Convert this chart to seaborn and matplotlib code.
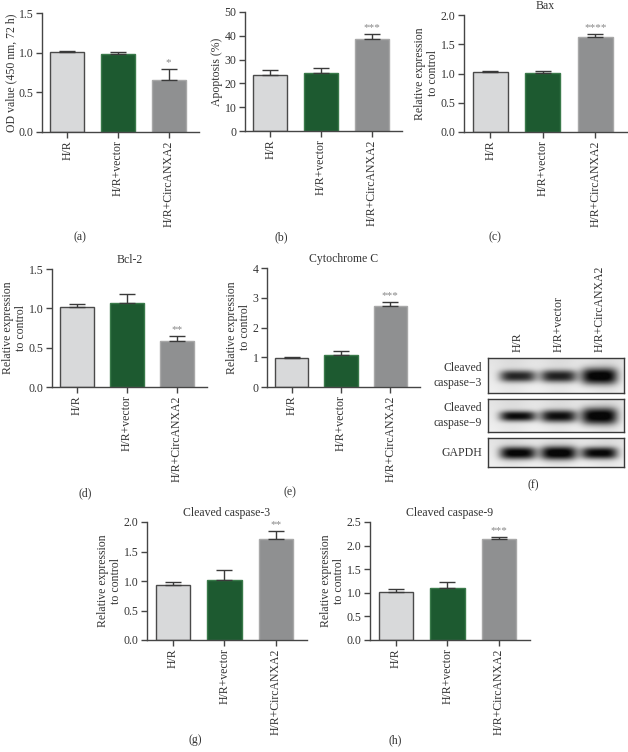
import numpy as np
import pandas as pd
import matplotlib
matplotlib.use("Agg")
import matplotlib.pyplot as plt
import seaborn as sns

sns.set_style("white")
plt.rcParams['font.family'] = ['Liberation Serif', 'DejaVu Serif']

# ---------------- data ----------------
groups = ["H/R", "H/R+vector", "H/R+CircANXA2"]

od_vals = [1.01, 0.98, 0.65]
od_err = [0.01, 0.03, 0.15]

apop_vals = [23.5, 24.5, 38.7]
apop_err = [2.0, 1.8, 1.9]

bax_vals = [1.03, 1.01, 1.63]
bax_err = [0.02, 0.04, 0.04]

bcl2_vals = [1.02, 1.07, 0.59]
bcl2_err = [0.03, 0.11, 0.06]

cytc_vals = [0.97, 1.08, 2.71]
cytc_err = [0.03, 0.13, 0.16]

casp3_vals = [0.94, 1.01, 1.71]
casp3_err = [0.05, 0.17, 0.14]

casp9_vals = [1.02, 1.10, 2.13]
casp9_err = [0.05, 0.12, 0.05]

sig_a = ["", "", "*"]
sig_b = ["", "", "***"]
sig_c = ["", "", "****"]
sig_d = ["", "", "**"]
sig_e = ["", "", "***"]
sig_g = ["", "", "**"]
sig_h = ["", "", "***"]

# western blot band strengths (relative darkness per lane)
blot_rows = ["Cleaved\ncaspase\u22123", "Cleaved\ncaspase\u22129", "GAPDH"]
band_casp3 = [0.80, 0.82, 1.00]
band_casp9 = [0.92, 0.90, 1.00]
band_gapdh = [0.97, 1.00, 0.95]

# ---------------- style ----------------
W, H = 628, 752
fig = plt.figure(figsize=(W / 100, H / 100), dpi=100)

bar_colors = ["#d8d9da", "#1d5a30", "#8f9091"]
edge_colors = ["#4a4a4a", "#3a7a4a", "#a8a8a8"]
axis_col = "#454545"
FS = 8


def px_axes(l, t, r, b):
    return fig.add_axes([l / W, 1 - b / H, (r - l) / W, (b - t) / H])


def bar_panel(box, vals, errs, sig, ylim, yticks, ylabel, title=None, fmt="{:.1f}"):
    ax = px_axes(*box)
    df = pd.DataFrame({"group": groups, "value": vals})
    sns.barplot(data=df, x="group", y="value", hue="group", palette=bar_colors,
                legend=False, width=0.67, ax=ax, errorbar=None, saturation=1)
    for p, ec in zip(ax.patches, edge_colors):
        p.set_edgecolor(ec)
        p.set_linewidth(1.0)
    ax.errorbar(range(3), vals, yerr=[[0, 0, 0], errs], fmt="none",
                ecolor="#3a3a3a", elinewidth=1.0, capsize=6, capthick=1.0, zorder=3)
    rng = ylim[1] - ylim[0]
    for i, (v, e, s) in enumerate(zip(vals, errs, sig)):
        if s:
            ax.text(i, v + e + rng * 0.015, s, ha="center", va="bottom",
                    fontsize=FS, color="#888888")
    ax.set_xlim(-0.5, 2.6)
    ax.set_ylim(*ylim)
    ax.set_yticks(yticks)
    ax.set_yticklabels([fmt.format(t) for t in yticks], fontsize=FS + 0.5, color="#333333")
    ax.set_xticks(range(3))
    ax.set_xticklabels(groups, rotation=90, fontsize=FS + 0.5, color="#333333")
    ax.set_xlabel("")
    ax.set_ylabel(ylabel, fontsize=FS + 0.5, color="#333333", labelpad=1, linespacing=1.15)
    for sp in ["top", "right"]:
        ax.spines[sp].set_visible(False)
    for sp in ["left", "bottom"]:
        ax.spines[sp].set_color(axis_col)
        ax.spines[sp].set_linewidth(1.0)
    ax.tick_params(axis="both", direction="out", length=4, width=1.0,
                   color=axis_col, pad=2, bottom=True, left=True)
    ax.set_facecolor("white")
    if title:
        ax.set_title(title, fontsize=FS + 0.5, color="#333333", pad=4)
    return ax


rel = "Relative expression\nto control"

bar_panel((42, 13, 199, 132), od_vals, od_err, sig_a, (0, 1.5), [0, 0.5, 1.0, 1.5],
          "OD value (450 nm, 72 h)")
bar_panel((245, 12, 402, 131), apop_vals, apop_err, sig_b, (0, 50), [0, 10, 20, 30, 40, 50],
          "Apoptosis (%)", fmt="{:.0f}")
bar_panel((464, 15, 627, 132), bax_vals, bax_err, sig_c, (0, 2.0), [0, 0.5, 1.0, 1.5, 2.0],
          rel, title="Bax")
bar_panel((52, 269, 207, 387), bcl2_vals, bcl2_err, sig_d, (0, 1.5), [0, 0.5, 1.0, 1.5],
          rel, title="Bcl-2")
bar_panel((267, 268, 420, 387), cytc_vals, cytc_err, sig_e, (0, 4), [0, 1, 2, 3, 4],
          rel, title="Cytochrome C", fmt="{:.0f}")
bar_panel((147, 522, 307, 640), casp3_vals, casp3_err, sig_g, (0, 2.0), [0, 0.5, 1.0, 1.5, 2.0],
          rel, title="Cleaved caspase-3")
bar_panel((370, 522, 530, 640), casp9_vals, casp9_err, sig_h, (0, 2.5), [0, 0.5, 1.0, 1.5, 2.0, 2.5],
          rel, title="Cleaved caspase-9")

# ---------------- western blot ----------------
blot_boxes = [(488, 358, 624, 393), (488, 399, 624, 432), (488, 438, 624, 467)]
band_sets = [band_casp3, band_casp9, band_gapdh]
band_thick = [[0.17, 0.18, 0.24], [0.16, 0.19, 0.26], [0.22, 0.24, 0.21]]
lane_frac = [0.22, 0.52, 0.82]
for (l, t, r, b), strengths, thick, lab in zip(blot_boxes, band_sets, band_thick, blot_rows):
    ax = px_axes(l, t, r, b)
    nx, ny = 200, 60
    xx, yy = np.meshgrid(np.linspace(0, 1, nx), np.linspace(0, 1, ny))
    img = np.full((ny, nx), 0.94)
    img -= 0.05 * (1 - yy) + 0.03 * np.sin(xx * 9.0) ** 2
    for lf, s, th in zip(lane_frac, strengths, thick):
        hx = np.exp(-np.abs((xx - lf) / 0.135) ** 4)
        hy = np.exp(-np.abs((yy - 0.52) / th) ** 2.5)
        img -= s * 0.93 * hx * hy
    img = np.clip(img, 0.03, 1)
    ax.imshow(img, cmap="gray", vmin=0, vmax=1, aspect="auto", interpolation="bilinear")
    ax.set_xticks([])
    ax.set_yticks([])
    for sp in ax.spines.values():
        sp.set_color("#3a3a3a")
        sp.set_linewidth(1.0)
    fig.text(482 / W, 1 - ((t + b) / 2) / H, lab, ha="right", va="center",
             fontsize=FS + 0.5, color="#333333", linespacing=1.4)

for lf, g in zip(lane_frac, groups):
    xpx = 488 + lf * (624 - 488)
    fig.text(xpx / W, 1 - 352 / H, g, rotation=90, ha="center", va="bottom",
             fontsize=FS + 0.5, color="#333333")

# ---------------- panel labels ----------------
panel_labels = [("(a)", 80, 237), ("(b)", 281, 237), ("(c)", 495, 237),
                ("(d)", 85, 493), ("(e)", 290, 492), ("(f)", 533, 485),
                ("(g)", 195, 740), ("(h)", 395, 740)]
for txt, x, y in panel_labels:
    fig.text(x / W, 1 - y / H, txt, ha="center", va="center", fontsize=FS + 0.5, color="#333333")

fig.savefig("out.png", dpi=100, facecolor="white")
